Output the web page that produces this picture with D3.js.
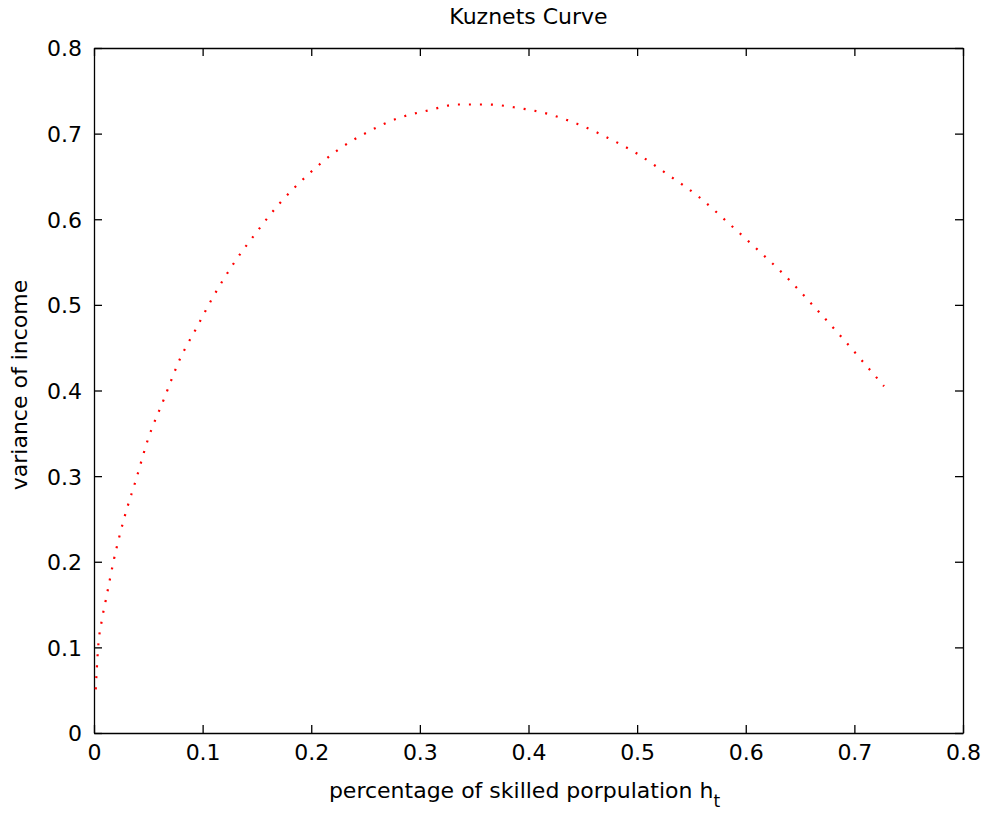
<!DOCTYPE html>
<html>
<head>
<meta charset="utf-8">
<script src="https://cdn.jsdelivr.net/npm/d3@7"></script>
<style>
  body { margin: 0; background: #fff; }
  text { font-family: "DejaVu Sans", sans-serif; fill: #000; }
</style>
</head>
<body>
<svg id="chart" width="984" height="814"></svg>
<script>
// share of skilled population h_t (x) and variance of income (y)
var hValues = [0.0016, 0.0037, 0.0074, 0.011, 0.0184, 0.0276, 0.0387, 0.0497, 0.0644, 0.0792,
  0.0939, 0.1086, 0.1289, 0.1491, 0.1712, 0.197, 0.2246, 0.2522, 0.2799, 0.3075,
  0.3351, 0.3627, 0.3903, 0.418, 0.4456, 0.4732, 0.5008, 0.5284, 0.556, 0.5837,
  0.6113, 0.6371, 0.6629, 0.6905, 0.7144, 0.7273];
var varianceValues = [0.051, 0.098, 0.133, 0.156, 0.203, 0.25, 0.296, 0.343, 0.39, 0.437,
  0.472, 0.507, 0.549, 0.584, 0.619, 0.652, 0.681, 0.702, 0.718, 0.727,
  0.734, 0.734, 0.73, 0.723, 0.711, 0.695, 0.676, 0.652, 0.627, 0.596,
  0.564, 0.533, 0.498, 0.459, 0.424, 0.405];
var tickValues = [0, 0.1, 0.2, 0.3, 0.4, 0.5, 0.6, 0.7, 0.8];
var tickLabels = ["0", "0.1", "0.2", "0.3", "0.4", "0.5", "0.6", "0.7", "0.8"];

var data = hValues.map(function(h, i) { return { h: h, v: varianceValues[i] }; });

var mLeft = 94, mRight = 963, mTop = 48, mBottom = 733;
var width = mRight - mLeft, height = mBottom - mTop;

var svg = d3.select("#chart");
var g = svg.append("g").attr("transform", "translate(" + mLeft + "," + mTop + ")");

var x = d3.scaleLinear().domain([0, 0.8]).range([0, width]);
var y = d3.scaleLinear().domain([0, 0.8]).range([height, 0]);

function fmt(d) { return tickLabels[tickValues.indexOf(d)]; }

// axes, ticks pointing inward like matlab
var xAxis = d3.axisBottom(x).tickValues(tickValues).tickFormat(fmt).tickSizeInner(-8).tickSizeOuter(0).tickPadding(11);
var yAxis = d3.axisLeft(y).tickValues(tickValues).tickFormat(fmt).tickSizeInner(-8).tickSizeOuter(0).tickPadding(12);
var xTop = d3.axisTop(x).tickValues(tickValues).tickFormat("").tickSizeInner(-8).tickSizeOuter(0);
var yRight = d3.axisRight(y).tickValues(tickValues).tickFormat("").tickSizeInner(-8).tickSizeOuter(0);

g.append("g").attr("class", "x axis").attr("transform", "translate(0," + height + ")").call(xAxis);
g.append("g").attr("class", "y axis").call(yAxis);
g.append("g").attr("class", "axis").call(xTop);
g.append("g").attr("class", "axis").attr("transform", "translate(" + width + ",0)").call(yRight);

g.selectAll(".axis path, .axis line").attr("stroke", "#000").attr("stroke-width", 1.3);
g.selectAll(".axis text").attr("font-size", 22).attr("font-family", "DejaVu Sans, sans-serif").attr("fill", "#111");
g.selectAll(".y.axis .tick text").attr("dy", "0.36em");

// dotted red curve
var line = d3.line()
  .x(function(d) { return x(d.h); })
  .y(function(d) { return y(d.v); })
  .curve(d3.curveMonotoneX);

g.append("path")
  .datum(data)
  .attr("d", line)
  .attr("fill", "none")
  .attr("stroke", "#ff0000")
  .attr("stroke-width", 2.2)
  .attr("stroke-dasharray", "2 9");

// title and labels
svg.append("text")
  .attr("x", mLeft + width / 2).attr("y", 24)
  .attr("text-anchor", "middle").attr("font-size", 22)
  .text("Kuznets Curve");

var xl = svg.append("text")
  .attr("x", mLeft + width / 2 - 4).attr("y", 798)
  .attr("text-anchor", "middle").attr("font-size", 22);
xl.append("tspan").text("percentage of skilled porpulation h");
xl.append("tspan").attr("font-size", 17).attr("dy", 9).text("t");

svg.append("text")
  .attr("transform", "translate(27,385) rotate(-90)")
  .attr("text-anchor", "middle").attr("font-size", 22)
  .text("variance of income");
</script>
</body>
</html>
